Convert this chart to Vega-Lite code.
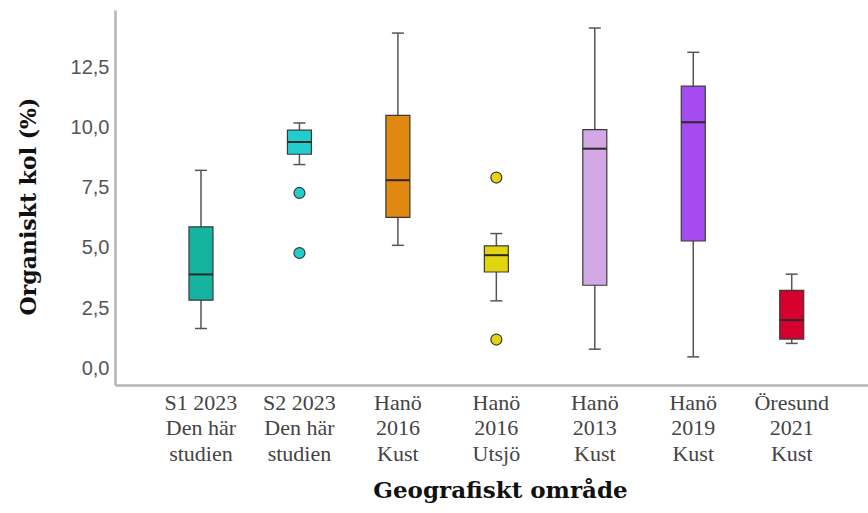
{
  "$schema": "https://vega.github.io/schema/vega-lite/v6.json",
  "width": 753,
  "height": 375,
  "autosize": {"type": "none"},
  "padding": {"left": 115, "top": 10, "right": 0, "bottom": 128},
  "background": "white",
  "config": {"view": {"stroke": null}},
  "datasets": {
    "stats": [
      {"group": "S1 2023|Den här|studien", "lower": 1.65, "q1": 2.83, "median": 3.9, "q3": 5.88, "upper": 8.23},
      {"group": "S2 2023|Den här|studien", "lower": 8.47, "q1": 8.9, "median": 9.41, "q3": 9.9, "upper": 10.2},
      {"group": "Hanö|2016|Kust", "lower": 5.11, "q1": 6.27, "median": 7.82, "q3": 10.52, "upper": 13.94},
      {"group": "Hanö|2016|Utsjö", "lower": 2.8, "q1": 4.0, "median": 4.7, "q3": 5.09, "upper": 5.6},
      {"group": "Hanö|2013|Kust", "lower": 0.79, "q1": 3.45, "median": 9.13, "q3": 9.92, "upper": 14.15},
      {"group": "Hanö|2019|Kust", "lower": 0.47, "q1": 5.29, "median": 10.23, "q3": 11.73, "upper": 13.14},
      {"group": "Öresund|2021|Kust", "lower": 1.03, "q1": 1.21, "median": 2.0, "q3": 3.24, "upper": 3.91}
    ],
    "outliers": [
      {"group": "S2 2023|Den här|studien", "value": 7.29},
      {"group": "S2 2023|Den här|studien", "value": 4.79},
      {"group": "Hanö|2016|Utsjö", "value": 7.93},
      {"group": "Hanö|2016|Utsjö", "value": 1.19}
    ]
  },
  "encoding": {
    "x": {
      "field": "group",
      "type": "nominal",
      "scale": {
        "domain": ["S1 2023|Den här|studien", "S2 2023|Den här|studien", "Hanö|2016|Kust", "Hanö|2016|Utsjö", "Hanö|2013|Kust", "Hanö|2019|Kust", "Öresund|2021|Kust"],
        "paddingInner": 0,
        "paddingOuter": 0.324,
        "align": 0.576
      },
      "axis": {
        "title": "Geografiskt område",
        "titleFont": "DejaVu Serif",
        "titleFontSize": 23,
        "titleFontWeight": "bold",
        "titleColor": "#111",
        "titleX": 385,
        "titleY": 112,
        "titleAnchor": null,
        "titleBaseline": "alphabetic",
        "labelExpr": "split(datum.label, '|')",
        "labelAngle": 0,
        "labelFont": "Liberation Serif",
        "labelFontSize": 22,
        "labelLineHeight": 25.5,
        "labelColor": "#444",
        "labelPadding": 7,
        "ticks": false,
        "domainColor": "#b4b4b4",
        "domainWidth": 2.5,
        "grid": false
      }
    },
    "y": {
      "type": "quantitative",
      "scale": {"domain": [-0.7, 14.9], "nice": false, "zero": false},
      "axis": {
        "title": "Organiskt kol (%)",
        "titleFont": "DejaVu Serif",
        "titleFontSize": 22,
        "titleFontWeight": "bold",
        "titleColor": "#111",
        "titleX": -87,
        "titleY": 196,
        "titleAngle": -90,
        "titleBaseline": "middle",
        "titleAlign": "center",
        "values": [0, 2.5, 5, 7.5, 10, 12.5],
        "labelExpr": "replace(format(datum.value, '.1f'), '.', ',')",
        "labelFont": "Liberation Sans",
        "labelFontSize": 20,
        "labelColor": "#555",
        "labelPadding": 6,
        "ticks": false,
        "domainColor": "#b4b4b4",
        "domainWidth": 2.5,
        "grid": false
      }
    }
  },
  "layer": [
    {
      "data": {"name": "stats"},
      "mark": {"type": "rule", "color": "#555", "strokeWidth": 1.5},
      "encoding": {"y": {"field": "lower"}, "y2": {"field": "upper"}}
    },
    {
      "data": {"name": "stats"},
      "mark": {"type": "tick", "color": "#555", "size": 12, "thickness": 1.5, "opacity": 1},
      "encoding": {"y": {"field": "lower"}}
    },
    {
      "data": {"name": "stats"},
      "mark": {"type": "tick", "color": "#555", "size": 12, "thickness": 1.5, "opacity": 1},
      "encoding": {"y": {"field": "upper"}}
    },
    {
      "data": {"name": "stats"},
      "mark": {"type": "bar", "width": 24, "stroke": "#3a3a3a", "strokeWidth": 1.2, "opacity": 1},
      "encoding": {
        "y": {"field": "q1"},
        "y2": {"field": "q3"},
        "color": {
          "field": "group",
          "type": "nominal",
          "scale": {
            "domain": ["S1 2023|Den här|studien", "S2 2023|Den här|studien", "Hanö|2016|Kust", "Hanö|2016|Utsjö", "Hanö|2013|Kust", "Hanö|2019|Kust", "Öresund|2021|Kust"],
            "range": ["#14B4A0", "#22CDCD", "#E0880F", "#E2D510", "#D2A9E4", "#A64BEF", "#D6002F"]
          },
          "legend": null
        }
      }
    },
    {
      "data": {"name": "stats"},
      "mark": {"type": "tick", "color": "#2a2a2a", "size": 24, "thickness": 2, "opacity": 1},
      "encoding": {"y": {"field": "median"}}
    },
    {
      "data": {"name": "outliers"},
      "mark": {"type": "point", "shape": "circle", "filled": true, "size": 120, "stroke": "#3a3a3a", "strokeWidth": 1.2, "opacity": 1},
      "encoding": {
        "y": {"field": "value"},
        "color": {
          "field": "group",
          "type": "nominal",
          "scale": {
            "domain": ["S1 2023|Den här|studien", "S2 2023|Den här|studien", "Hanö|2016|Kust", "Hanö|2016|Utsjö", "Hanö|2013|Kust", "Hanö|2019|Kust", "Öresund|2021|Kust"],
            "range": ["#14B4A0", "#22CDCD", "#E0880F", "#E2D510", "#D2A9E4", "#A64BEF", "#D6002F"]
          },
          "legend": null
        }
      }
    }
  ]
}
